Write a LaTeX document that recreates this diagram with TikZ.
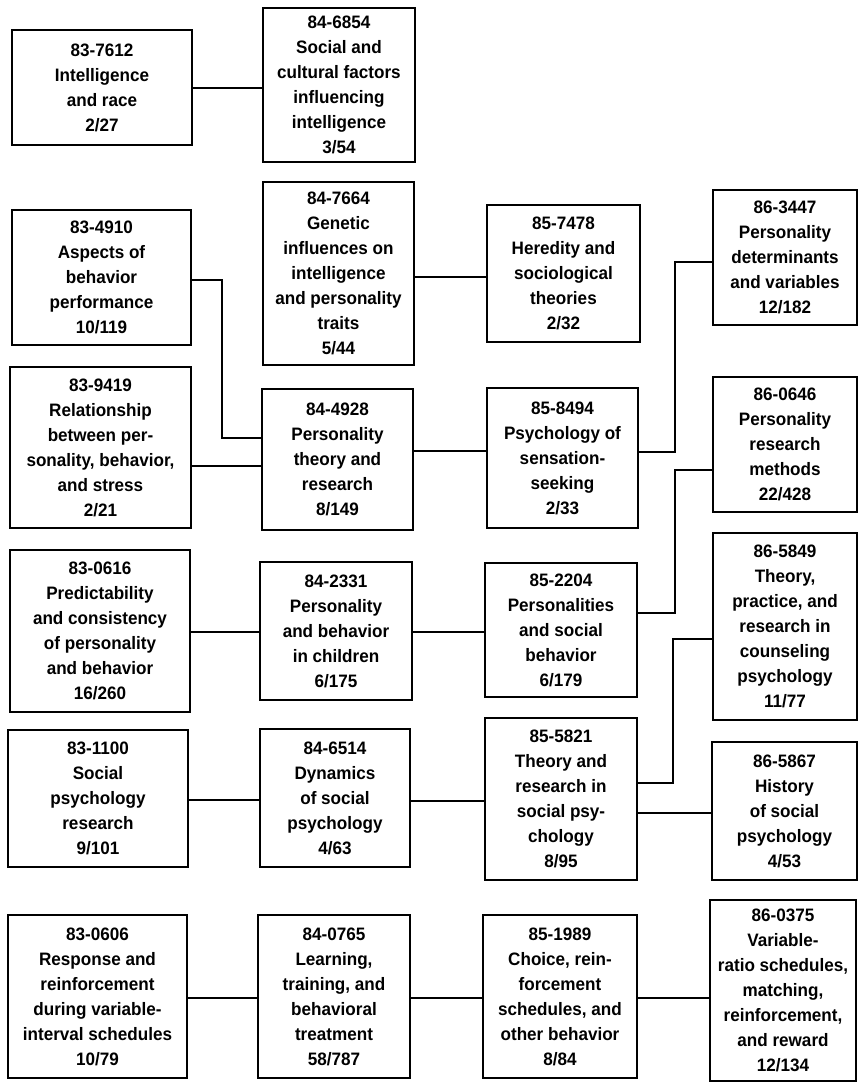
\documentclass[tikz,border=0pt]{standalone}
\usepackage{fontspec}
\newfontfamily\boxfont[FakeStretch=0.95]{Liberation Sans}
\begin{document}
\begin{tikzpicture}[x=1pt, y=-1pt,
    topic/.style={draw, line width=2.6pt, align=center, inner sep=0pt,
        font=\boxfont\bfseries\fontsize{18}{25}\selectfont},
    link/.style={line width=1.8pt}]
    \useasboundingbox (0,0) rectangle (859,1085);
    \node[topic, minimum width=180, minimum height=115] (t837612) at (102,87.5) {83-7612\\Intelligence\\and race\\2/27};
    \node[topic, minimum width=179, minimum height=135] (t834910) at (101.5,277.5) {83-4910\\Aspects of\\behavior\\performance\\10/119};
    \node[topic, minimum width=181, minimum height=161] (t839419) at (100.5,447.5) {83-9419\\Relationship\\between per-\\sonality, behavior,\\and stress\\2/21};
    \node[topic, minimum width=180, minimum height=162] (t830616) at (100,631) {83-0616\\Predictability\\and consistency\\of personality\\and behavior\\16/260};
    \node[topic, minimum width=180, minimum height=137] (t831100) at (98,798.5) {83-1100\\Social\\psychology\\research\\9/101};
    \node[topic, minimum width=179, minimum height=163] (t830606) at (97.5,996.5) {83-0606\\Response and\\reinforcement\\during variable-\\interval schedules\\10/79};
    \node[topic, minimum width=152, minimum height=154] (t846854) at (339,85) {84-6854\\Social and\\cultural factors\\influencing\\intelligence\\3/54};
    \node[topic, minimum width=151, minimum height=183] (t847664) at (338.5,273.5) {84-7664\\Genetic\\influences on\\intelligence\\and personality\\traits\\5/44};
    \node[topic, minimum width=151, minimum height=141] (t844928) at (337.5,459.5) {84-4928\\Personality\\theory and\\research\\8/149};
    \node[topic, minimum width=152, minimum height=138] (t842331) at (336,631) {84-2331\\Personality\\and behavior\\in children\\6/175};
    \node[topic, minimum width=150, minimum height=138] (t846514) at (335,798) {84-6514\\Dynamics\\of social\\psychology\\4/63};
    \node[topic, minimum width=152, minimum height=163] (t840765) at (334,996.5) {84-0765\\Learning,\\training, and\\behavioral\\treatment\\58/787};
    \node[topic, minimum width=153, minimum height=137] (t857478) at (563.5,273.5) {85-7478\\Heredity and\\sociological\\theories\\2/32};
    \node[topic, minimum width=151, minimum height=140] (t858494) at (562.5,458) {85-8494\\Psychology of\\sensation-\\seeking\\2/33};
    \node[topic, minimum width=152, minimum height=134] (t852204) at (561,630) {85-2204\\Personalities\\and social\\behavior\\6/179};
    \node[topic, minimum width=152, minimum height=162] (t855821) at (561,799) {85-5821\\Theory and\\research in\\social psy-\\chology\\8/95};
    \node[topic, minimum width=154, minimum height=163] (t851989) at (560,996.5) {85-1989\\Choice, rein-\\forcement\\schedules, and\\other behavior\\8/84};
    \node[topic, minimum width=144, minimum height=135] (t863447) at (785,257.5) {86-3447\\Personality\\determinants\\and variables\\12/182};
    \node[topic, minimum width=144, minimum height=135] (t860646) at (785,444.5) {86-0646\\Personality\\research\\methods\\22/428};
    \node[topic, minimum width=144, minimum height=187] (t865849) at (785,626.5) {86-5849\\Theory,\\practice, and\\research in\\counseling\\psychology\\11/77};
    \node[topic, minimum width=145, minimum height=138] (t865867) at (784.5,811) {86-5867\\History\\of social\\psychology\\4/53};
    \node[topic, minimum width=146, minimum height=181] (t860375) at (783,990.5) {86-0375\\Variable-\\ratio schedules,\\matching,\\reinforcement,\\and reward\\12/134};
    \draw[link] (t837612.east |- 0,88) -- (t846854.west |- 0,88);
    \draw[link] (t834910.east |- 0,280) -| (222,438) -- (t844928.west |- 0,438);
    \draw[link] (t839419.east |- 0,466) -- (t844928.west |- 0,466);
    \draw[link] (t847664.east |- 0,277) -- (t857478.west |- 0,277);
    \draw[link] (t844928.east |- 0,451) -- (t858494.west |- 0,451);
    \draw[link] (t858494.east |- 0,452) -| (675,262) -- (t863447.west |- 0,262);
    \draw[link] (t830616.east |- 0,632) -- (t842331.west |- 0,632);
    \draw[link] (t842331.east |- 0,632) -- (t852204.west |- 0,632);
    \draw[link] (t852204.east |- 0,613) -| (675,470) -- (t860646.west |- 0,470);
    \draw[link] (t855821.east |- 0,783) -| (673,639) -- (t865849.west |- 0,639);
    \draw[link] (t855821.east |- 0,813) -- (t865867.west |- 0,813);
    \draw[link] (t831100.east |- 0,800) -- (t846514.west |- 0,800);
    \draw[link] (t846514.east |- 0,801) -- (t855821.west |- 0,801);
    \draw[link] (t830606.east |- 0,998) -- (t840765.west |- 0,998);
    \draw[link] (t840765.east |- 0,998) -- (t851989.west |- 0,998);
    \draw[link] (t851989.east |- 0,998) -- (t860375.west |- 0,998);
\end{tikzpicture}
\end{document}
